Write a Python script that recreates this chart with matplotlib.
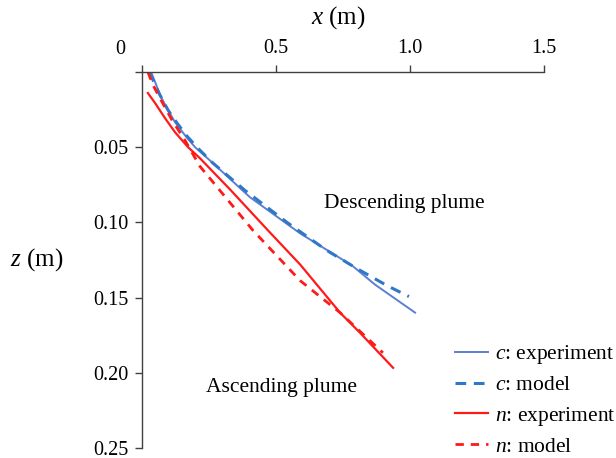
import matplotlib
matplotlib.use("Agg")
import matplotlib.pyplot as plt

plt.rcParams["font.family"] = ["Liberation Serif", "DejaVu Serif"]
plt.rcParams["mathtext.fontset"] = "custom"
plt.rcParams["mathtext.rm"] = "Liberation Serif"
plt.rcParams["mathtext.it"] = "Liberation Serif:italic"

# c: experiment
c_exp_x = [0.034, 0.049, 0.067, 0.093, 0.123, 0.160, 0.198, 0.261, 0.403, 0.590, 0.784, 0.869, 1.019]
c_exp_z = [0.000, 0.0067, 0.0153, 0.024, 0.0333, 0.042, 0.050, 0.060, 0.0833, 0.1073, 0.1287, 0.1413, 0.160]
# c: model
c_mod_x = [0.026, 0.041, 0.067, 0.097, 0.131, 0.168, 0.209, 0.261, 0.384, 0.541, 0.690, 0.802, 0.914, 0.996]
c_mod_z = [0.0, 0.0053, 0.0153, 0.0253, 0.034, 0.0427, 0.0507, 0.060, 0.0787, 0.100, 0.1187, 0.1307, 0.142, 0.1493]
# n: experiment
n_exp_x = [0.022, 0.049, 0.086, 0.123, 0.172, 0.216, 0.328, 0.470, 0.590, 0.739, 0.813, 0.937]
n_exp_z = [0.014, 0.0207, 0.0307, 0.040, 0.050, 0.0573, 0.078, 0.1053, 0.128, 0.160, 0.1733, 0.1967]
# n: model
n_mod_x = [0.022, 0.041, 0.075, 0.112, 0.160, 0.216, 0.414, 0.590, 0.739, 0.899]
n_mod_z = [0.0, 0.0087, 0.020, 0.032, 0.0453, 0.0627, 0.1053, 0.1387, 0.160, 0.1867]

x_ticks = [0, 0.5, 1.0, 1.5]
x_tick_labels = ["", "0.5", "1.0", "1.5"]
z_ticks = [0, 0.05, 0.10, 0.15, 0.20, 0.25]
z_tick_labels = ["", "0.05", "0.10", "0.15", "0.20", "0.25"]

W, H = 616, 458
fig = plt.figure(figsize=(W / 100, H / 100), dpi=100)
ax = fig.add_axes([142 / W, 1 - 448 / H, (544 - 142) / W, (448 - 72) / H])

blue_solid = "#5b7fd3"
blue_dash = "#2f78c8"
red = "#ff1a1a"

ax.plot(c_exp_x, c_exp_z, color=blue_solid, lw=1.4, label=r"$c$: experiment")
ax.plot(c_mod_x, c_mod_z, color=blue_dash, lw=2.2, dashes=(3.5, 2.5), label=r"$c$: model")
ax.plot(n_exp_x, n_exp_z, color=red, lw=1.6, label=r"$n$: experiment")
ax.plot(n_mod_x, n_mod_z, color=red, lw=2.0, dashes=(3, 2.5), label=r"$n$: model")

ax.set_xlim(0, 1.5)
ax.set_ylim(0.25, 0)
ax.xaxis.tick_top()
ax.set_xticks(x_ticks)
ax.set_xticklabels(x_tick_labels)
ax.set_yticks(z_ticks)
ax.set_yticklabels(z_tick_labels)
ax.tick_params(axis="both", direction="out", length=5, width=1, color="#404040",
               labelsize=14.5, pad=5)
for s in ["right", "bottom"]:
    ax.spines[s].set_visible(False)
for s in ["left", "top"]:
    ax.spines[s].set_color("#404040")
    ax.spines[s].set_linewidth(1.0)

fig.text(120 / W, 1 - 50 / H, "0", fontsize=14.5, ha="center", va="center")
fig.text(338 / W, 1 - 18 / H, r"$x$ (m)", fontsize=18, ha="center", va="center")
fig.text(37 / W, 1 - 260 / H, r"$z$ (m)", fontsize=18, ha="center", va="center")

ax.text(0.979, 0.0875, "Descending plume", fontsize=15.5, ha="center", va="center")
ax.text(0.519, 0.210, "Ascending plume", fontsize=15.5, ha="center", va="center")

ax.legend(loc="center left", bbox_to_anchor=(455 / W, 1 - 400 / H),
          bbox_transform=fig.transFigure, frameon=False, fontsize=15.5,
          handlelength=1.55, handletextpad=0.3, labelspacing=0.42,
          borderpad=0, borderaxespad=0)

fig.savefig("out.png", dpi=100)
